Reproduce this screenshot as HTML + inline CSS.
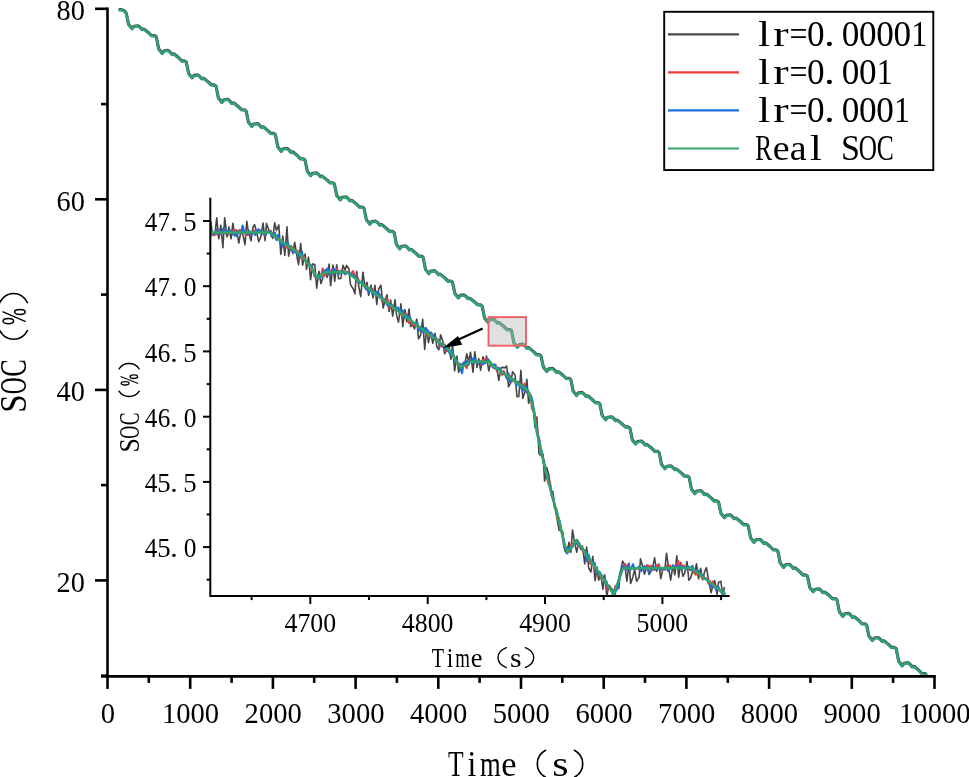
<!DOCTYPE html>
<html><head><meta charset="utf-8"><title>SOC</title>
<style>html,body{margin:0;padding:0;background:#fff;overflow:hidden}svg{display:block;will-change:transform}</style>
</head><body>
<svg width="969" height="777" viewBox="0 0 969 777">
<rect width="969" height="777" fill="#fff"/>
<path d="M118.6 9.9 L121.5 9.9 L124 10.8 L126.2 13.3 L127.2 18 L128.6 24.6 L130.2 26.5 L132.1 28.8 L134 26.5 L138 26 L139.9 27.4 L141.9 29.8 L143.9 29.3 L148.7 33.1 L151.7 35.9 L154.6 35.9 L156.3 37.1 L157.3 42.1 L158.7 49.1 L160.2 51.1 L162.2 53.6 L164.1 51.1 L168 50.6 L170 52.1 L172 54.6 L173.9 54.1 L178.8 58.1 L181.7 61.2 L184.6 61.2 L186.3 62.4 L187.3 67.1 L188.7 73.8 L190.2 75.7 L192.1 78 L194 75.7 L197.9 75.2 L199.8 76.7 L201.8 79 L203.7 78.5 L208.5 82.4 L211.4 85.2 L214.3 85.2 L216 86.4 L217 91.3 L218.4 98.2 L220 100.1 L221.9 102.6 L223.8 100.1 L227.8 99.6 L229.7 101.1 L231.7 103.6 L233.7 103.1 L238.5 107 L241.5 110 L244.4 110 L246.1 111.2 L247.1 115.9 L248.5 122.5 L250 124.3 L251.8 126.6 L253.7 124.3 L257.6 123.8 L259.4 125.3 L261.4 127.6 L263.3 127.1 L268 130.9 L270.9 133.7 L273.8 133.7 L275.4 134.9 L276.4 139.9 L277.8 147 L279.3 149 L281.2 151.5 L283.1 149 L287 148.5 L288.9 150.1 L290.9 152.6 L292.8 152 L297.6 156.1 L300.4 159.1 L303.3 159.1 L305 160.4 L306 165.1 L307.4 171.7 L308.9 173.6 L310.7 175.9 L312.6 173.6 L316.5 173.1 L318.4 174.5 L320.4 176.9 L322.2 176.4 L327 180.2 L329.9 183 L332.8 183 L334.4 184.2 L335.4 189 L336.8 195.8 L338.3 197.6 L340.2 200 L342.1 197.6 L346 197.1 L347.9 198.6 L349.9 201 L351.8 200.5 L356.6 204.4 L359.4 207.3 L362.3 207.3 L364 208.5 L365 213.3 L366.4 220.1 L368 221.9 L369.9 224.3 L371.8 221.9 L375.8 221.4 L377.7 222.9 L379.7 225.3 L381.7 224.8 L386.5 228.7 L389.5 231.6 L392.4 231.6 L394.1 232.8 L395.1 237.7 L396.4 244.6 L397.9 246.5 L399.8 249 L401.6 246.5 L405.4 246 L407.3 247.5 L409.3 250 L411.1 249.5 L415.8 253.4 L418.6 256.4 L421.5 256.4 L423.1 257.6 L424.1 262.5 L425.5 269.5 L427 271.4 L428.8 273.9 L430.7 271.4 L434.6 270.9 L436.5 272.5 L438.5 274.9 L440.3 274.4 L445.1 278.4 L448 281.4 L450.9 281.4 L452.5 282.6 L453.5 287.2 L454.9 293.8 L456.4 295.7 L458.3 298 L460.2 295.7 L464.1 295.2 L466 296.6 L468 298.9 L469.9 298.5 L474.7 302.2 L477.5 305 L480.4 305 L482.1 306.2 L483.1 311.1 L484.5 318 L486 320 L487.8 322.4 L489.7 320 L493.6 319.5 L495.5 321 L497.5 323.4 L499.3 322.9 L504.1 326.9 L507 329.9 L509.9 329.9 L511.5 331.1 L512.5 336 L513.9 343 L515.4 344.9 L517.3 347.4 L519.2 344.9 L523 344.4 L524.9 346 L526.9 348.4 L528.8 347.9 L533.6 351.9 L536.5 354.9 L539.3 354.9 L541 356.1 L542 360.8 L543.4 367.4 L544.9 369.2 L546.8 371.5 L548.7 369.2 L552.7 368.7 L554.6 370.2 L556.6 372.5 L558.5 372 L563.3 375.8 L566.2 378.6 L569.1 378.6 L570.8 379.8 L571.8 384.6 L573.1 391.4 L574.6 393.2 L576.5 395.6 L578.3 393.2 L582.1 392.7 L584 394.2 L586 396.6 L587.8 396.1 L592.5 400 L595.3 402.9 L598.2 402.9 L599.8 404.1 L600.8 408.9 L602.2 415.7 L603.8 417.5 L605.7 419.9 L607.6 417.5 L611.6 417 L613.5 418.5 L615.5 420.9 L617.5 420.4 L622.3 424.3 L625.3 427.2 L628.2 427.2 L629.9 428.4 L630.9 433.2 L632.3 440 L633.7 441.8 L635.6 444.2 L637.5 441.8 L641.3 441.3 L643.2 442.8 L645.2 445.2 L647 444.7 L651.8 448.6 L654.6 451.5 L657.5 451.5 L659.1 452.7 L660.1 457.6 L661.5 464.5 L663 466.5 L665 468.9 L666.9 466.5 L670.8 466 L672.8 467.5 L674.8 469.9 L676.7 469.4 L681.6 473.4 L684.5 476.4 L687.4 476.4 L689.1 477.6 L690.1 482.5 L691.5 489.4 L693 491.3 L694.9 493.8 L696.8 491.3 L700.6 490.8 L702.5 492.3 L704.5 494.8 L706.4 494.3 L711.2 498.2 L714.1 501.2 L716.9 501.2 L718.6 502.4 L719.6 507.1 L721 513.7 L722.5 515.5 L724.4 517.8 L726.3 515.5 L730.2 515 L732.1 516.5 L734.1 518.8 L736 518.3 L740.8 522.1 L743.6 524.9 L746.5 524.9 L748.2 526.1 L749.2 531 L750.6 538 L752.1 540 L754 542.5 L755.9 540 L759.8 539.5 L761.7 541 L763.7 543.5 L765.6 543 L770.4 547 L773.2 550 L776.1 550 L777.8 551.2 L778.8 556.2 L780.2 563.2 L781.7 565.1 L783.6 567.6 L785.5 565.1 L789.4 564.6 L791.3 566.2 L793.3 568.7 L795.2 568.1 L800 572.2 L802.8 575.2 L805.7 575.2 L807.4 576.4 L808.4 581.1 L809.8 587.7 L811.3 589.5 L813.2 591.8 L815.1 589.5 L819 589 L820.9 590.5 L822.9 592.8 L824.8 592.3 L829.6 596.1 L832.4 598.9 L835.3 598.9 L837 600.1 L838 605 L839.4 612 L840.9 614 L842.8 616.5 L844.7 614 L848.6 613.5 L850.5 615 L852.5 617.5 L854.4 617 L859.2 621 L862 624 L864.9 624 L866.6 625.2 L867.6 629.9 L869 636.5 L870.5 638.3 L872.4 640.6 L874.3 638.3 L878.2 637.8 L880.1 639.3 L882.1 641.6 L884 641.1 L888.8 644.9 L891.6 647.7 L894.5 647.7 L896.2 648.9 L897.2 654.1 L898.7 661.4 L900.2 663.5 L902.2 666 L904.1 663.5 L908.2 662.9 L910.1 664.5 L912.2 667.1 L914.2 666.6 L919.1 670.8 L922.1 673.9 L925.1 673.9 L926.8 675.2" fill="none" stroke="#4a4a4a" stroke-width="3.1" stroke-linejoin="round" transform="translate(0 -0.3)"/>
<path d="M118.6 9.9 L121.5 9.9 L124 10.8 L126.2 13.3 L127.2 18 L128.6 24.6 L130.2 26.5 L132.1 28.8 L134 26.5 L138 26 L139.9 27.4 L141.9 29.8 L143.9 29.3 L148.7 33.1 L151.7 35.9 L154.6 35.9 L156.3 37.1 L157.3 42.1 L158.7 49.1 L160.2 51.1 L162.2 53.6 L164.1 51.1 L168 50.6 L170 52.1 L172 54.6 L173.9 54.1 L178.8 58.1 L181.7 61.2 L184.6 61.2 L186.3 62.4 L187.3 67.1 L188.7 73.8 L190.2 75.7 L192.1 78 L194 75.7 L197.9 75.2 L199.8 76.7 L201.8 79 L203.7 78.5 L208.5 82.4 L211.4 85.2 L214.3 85.2 L216 86.4 L217 91.3 L218.4 98.2 L220 100.1 L221.9 102.6 L223.8 100.1 L227.8 99.6 L229.7 101.1 L231.7 103.6 L233.7 103.1 L238.5 107 L241.5 110 L244.4 110 L246.1 111.2 L247.1 115.9 L248.5 122.5 L250 124.3 L251.8 126.6 L253.7 124.3 L257.6 123.8 L259.4 125.3 L261.4 127.6 L263.3 127.1 L268 130.9 L270.9 133.7 L273.8 133.7 L275.4 134.9 L276.4 139.9 L277.8 147 L279.3 149 L281.2 151.5 L283.1 149 L287 148.5 L288.9 150.1 L290.9 152.6 L292.8 152 L297.6 156.1 L300.4 159.1 L303.3 159.1 L305 160.4 L306 165.1 L307.4 171.7 L308.9 173.6 L310.7 175.9 L312.6 173.6 L316.5 173.1 L318.4 174.5 L320.4 176.9 L322.2 176.4 L327 180.2 L329.9 183 L332.8 183 L334.4 184.2 L335.4 189 L336.8 195.8 L338.3 197.6 L340.2 200 L342.1 197.6 L346 197.1 L347.9 198.6 L349.9 201 L351.8 200.5 L356.6 204.4 L359.4 207.3 L362.3 207.3 L364 208.5 L365 213.3 L366.4 220.1 L368 221.9 L369.9 224.3 L371.8 221.9 L375.8 221.4 L377.7 222.9 L379.7 225.3 L381.7 224.8 L386.5 228.7 L389.5 231.6 L392.4 231.6 L394.1 232.8 L395.1 237.7 L396.4 244.6 L397.9 246.5 L399.8 249 L401.6 246.5 L405.4 246 L407.3 247.5 L409.3 250 L411.1 249.5 L415.8 253.4 L418.6 256.4 L421.5 256.4 L423.1 257.6 L424.1 262.5 L425.5 269.5 L427 271.4 L428.8 273.9 L430.7 271.4 L434.6 270.9 L436.5 272.5 L438.5 274.9 L440.3 274.4 L445.1 278.4 L448 281.4 L450.9 281.4 L452.5 282.6 L453.5 287.2 L454.9 293.8 L456.4 295.7 L458.3 298 L460.2 295.7 L464.1 295.2 L466 296.6 L468 298.9 L469.9 298.5 L474.7 302.2 L477.5 305 L480.4 305 L482.1 306.2 L483.1 311.1 L484.5 318 L486 320 L487.8 322.4 L489.7 320 L493.6 319.5 L495.5 321 L497.5 323.4 L499.3 322.9 L504.1 326.9 L507 329.9 L509.9 329.9 L511.5 331.1 L512.5 336 L513.9 343 L515.4 344.9 L517.3 347.4 L519.2 344.9 L523 344.4 L524.9 346 L526.9 348.4 L528.8 347.9 L533.6 351.9 L536.5 354.9 L539.3 354.9 L541 356.1 L542 360.8 L543.4 367.4 L544.9 369.2 L546.8 371.5 L548.7 369.2 L552.7 368.7 L554.6 370.2 L556.6 372.5 L558.5 372 L563.3 375.8 L566.2 378.6 L569.1 378.6 L570.8 379.8 L571.8 384.6 L573.1 391.4 L574.6 393.2 L576.5 395.6 L578.3 393.2 L582.1 392.7 L584 394.2 L586 396.6 L587.8 396.1 L592.5 400 L595.3 402.9 L598.2 402.9 L599.8 404.1 L600.8 408.9 L602.2 415.7 L603.8 417.5 L605.7 419.9 L607.6 417.5 L611.6 417 L613.5 418.5 L615.5 420.9 L617.5 420.4 L622.3 424.3 L625.3 427.2 L628.2 427.2 L629.9 428.4 L630.9 433.2 L632.3 440 L633.7 441.8 L635.6 444.2 L637.5 441.8 L641.3 441.3 L643.2 442.8 L645.2 445.2 L647 444.7 L651.8 448.6 L654.6 451.5 L657.5 451.5 L659.1 452.7 L660.1 457.6 L661.5 464.5 L663 466.5 L665 468.9 L666.9 466.5 L670.8 466 L672.8 467.5 L674.8 469.9 L676.7 469.4 L681.6 473.4 L684.5 476.4 L687.4 476.4 L689.1 477.6 L690.1 482.5 L691.5 489.4 L693 491.3 L694.9 493.8 L696.8 491.3 L700.6 490.8 L702.5 492.3 L704.5 494.8 L706.4 494.3 L711.2 498.2 L714.1 501.2 L716.9 501.2 L718.6 502.4 L719.6 507.1 L721 513.7 L722.5 515.5 L724.4 517.8 L726.3 515.5 L730.2 515 L732.1 516.5 L734.1 518.8 L736 518.3 L740.8 522.1 L743.6 524.9 L746.5 524.9 L748.2 526.1 L749.2 531 L750.6 538 L752.1 540 L754 542.5 L755.9 540 L759.8 539.5 L761.7 541 L763.7 543.5 L765.6 543 L770.4 547 L773.2 550 L776.1 550 L777.8 551.2 L778.8 556.2 L780.2 563.2 L781.7 565.1 L783.6 567.6 L785.5 565.1 L789.4 564.6 L791.3 566.2 L793.3 568.7 L795.2 568.1 L800 572.2 L802.8 575.2 L805.7 575.2 L807.4 576.4 L808.4 581.1 L809.8 587.7 L811.3 589.5 L813.2 591.8 L815.1 589.5 L819 589 L820.9 590.5 L822.9 592.8 L824.8 592.3 L829.6 596.1 L832.4 598.9 L835.3 598.9 L837 600.1 L838 605 L839.4 612 L840.9 614 L842.8 616.5 L844.7 614 L848.6 613.5 L850.5 615 L852.5 617.5 L854.4 617 L859.2 621 L862 624 L864.9 624 L866.6 625.2 L867.6 629.9 L869 636.5 L870.5 638.3 L872.4 640.6 L874.3 638.3 L878.2 637.8 L880.1 639.3 L882.1 641.6 L884 641.1 L888.8 644.9 L891.6 647.7 L894.5 647.7 L896.2 648.9 L897.2 654.1 L898.7 661.4 L900.2 663.5 L902.2 666 L904.1 663.5 L908.2 662.9 L910.1 664.5 L912.2 667.1 L914.2 666.6 L919.1 670.8 L922.1 673.9 L925.1 673.9 L926.8 675.2" fill="none" stroke="#1a6fdc" stroke-width="2.7" stroke-linejoin="round" stroke-opacity="0.45" transform="translate(0 0.3)"/>
<path d="M118.6 9.9 L121.5 9.9 L124 10.8 L126.2 13.3 L127.2 18 L128.6 24.6 L130.2 26.5 L132.1 28.8 L134 26.5 L138 26 L139.9 27.4 L141.9 29.8 L143.9 29.3 L148.7 33.1 L151.7 35.9 L154.6 35.9 L156.3 37.1 L157.3 42.1 L158.7 49.1 L160.2 51.1 L162.2 53.6 L164.1 51.1 L168 50.6 L170 52.1 L172 54.6 L173.9 54.1 L178.8 58.1 L181.7 61.2 L184.6 61.2 L186.3 62.4 L187.3 67.1 L188.7 73.8 L190.2 75.7 L192.1 78 L194 75.7 L197.9 75.2 L199.8 76.7 L201.8 79 L203.7 78.5 L208.5 82.4 L211.4 85.2 L214.3 85.2 L216 86.4 L217 91.3 L218.4 98.2 L220 100.1 L221.9 102.6 L223.8 100.1 L227.8 99.6 L229.7 101.1 L231.7 103.6 L233.7 103.1 L238.5 107 L241.5 110 L244.4 110 L246.1 111.2 L247.1 115.9 L248.5 122.5 L250 124.3 L251.8 126.6 L253.7 124.3 L257.6 123.8 L259.4 125.3 L261.4 127.6 L263.3 127.1 L268 130.9 L270.9 133.7 L273.8 133.7 L275.4 134.9 L276.4 139.9 L277.8 147 L279.3 149 L281.2 151.5 L283.1 149 L287 148.5 L288.9 150.1 L290.9 152.6 L292.8 152 L297.6 156.1 L300.4 159.1 L303.3 159.1 L305 160.4 L306 165.1 L307.4 171.7 L308.9 173.6 L310.7 175.9 L312.6 173.6 L316.5 173.1 L318.4 174.5 L320.4 176.9 L322.2 176.4 L327 180.2 L329.9 183 L332.8 183 L334.4 184.2 L335.4 189 L336.8 195.8 L338.3 197.6 L340.2 200 L342.1 197.6 L346 197.1 L347.9 198.6 L349.9 201 L351.8 200.5 L356.6 204.4 L359.4 207.3 L362.3 207.3 L364 208.5 L365 213.3 L366.4 220.1 L368 221.9 L369.9 224.3 L371.8 221.9 L375.8 221.4 L377.7 222.9 L379.7 225.3 L381.7 224.8 L386.5 228.7 L389.5 231.6 L392.4 231.6 L394.1 232.8 L395.1 237.7 L396.4 244.6 L397.9 246.5 L399.8 249 L401.6 246.5 L405.4 246 L407.3 247.5 L409.3 250 L411.1 249.5 L415.8 253.4 L418.6 256.4 L421.5 256.4 L423.1 257.6 L424.1 262.5 L425.5 269.5 L427 271.4 L428.8 273.9 L430.7 271.4 L434.6 270.9 L436.5 272.5 L438.5 274.9 L440.3 274.4 L445.1 278.4 L448 281.4 L450.9 281.4 L452.5 282.6 L453.5 287.2 L454.9 293.8 L456.4 295.7 L458.3 298 L460.2 295.7 L464.1 295.2 L466 296.6 L468 298.9 L469.9 298.5 L474.7 302.2 L477.5 305 L480.4 305 L482.1 306.2 L483.1 311.1 L484.5 318 L486 320 L487.8 322.4 L489.7 320 L493.6 319.5 L495.5 321 L497.5 323.4 L499.3 322.9 L504.1 326.9 L507 329.9 L509.9 329.9 L511.5 331.1 L512.5 336 L513.9 343 L515.4 344.9 L517.3 347.4 L519.2 344.9 L523 344.4 L524.9 346 L526.9 348.4 L528.8 347.9 L533.6 351.9 L536.5 354.9 L539.3 354.9 L541 356.1 L542 360.8 L543.4 367.4 L544.9 369.2 L546.8 371.5 L548.7 369.2 L552.7 368.7 L554.6 370.2 L556.6 372.5 L558.5 372 L563.3 375.8 L566.2 378.6 L569.1 378.6 L570.8 379.8 L571.8 384.6 L573.1 391.4 L574.6 393.2 L576.5 395.6 L578.3 393.2 L582.1 392.7 L584 394.2 L586 396.6 L587.8 396.1 L592.5 400 L595.3 402.9 L598.2 402.9 L599.8 404.1 L600.8 408.9 L602.2 415.7 L603.8 417.5 L605.7 419.9 L607.6 417.5 L611.6 417 L613.5 418.5 L615.5 420.9 L617.5 420.4 L622.3 424.3 L625.3 427.2 L628.2 427.2 L629.9 428.4 L630.9 433.2 L632.3 440 L633.7 441.8 L635.6 444.2 L637.5 441.8 L641.3 441.3 L643.2 442.8 L645.2 445.2 L647 444.7 L651.8 448.6 L654.6 451.5 L657.5 451.5 L659.1 452.7 L660.1 457.6 L661.5 464.5 L663 466.5 L665 468.9 L666.9 466.5 L670.8 466 L672.8 467.5 L674.8 469.9 L676.7 469.4 L681.6 473.4 L684.5 476.4 L687.4 476.4 L689.1 477.6 L690.1 482.5 L691.5 489.4 L693 491.3 L694.9 493.8 L696.8 491.3 L700.6 490.8 L702.5 492.3 L704.5 494.8 L706.4 494.3 L711.2 498.2 L714.1 501.2 L716.9 501.2 L718.6 502.4 L719.6 507.1 L721 513.7 L722.5 515.5 L724.4 517.8 L726.3 515.5 L730.2 515 L732.1 516.5 L734.1 518.8 L736 518.3 L740.8 522.1 L743.6 524.9 L746.5 524.9 L748.2 526.1 L749.2 531 L750.6 538 L752.1 540 L754 542.5 L755.9 540 L759.8 539.5 L761.7 541 L763.7 543.5 L765.6 543 L770.4 547 L773.2 550 L776.1 550 L777.8 551.2 L778.8 556.2 L780.2 563.2 L781.7 565.1 L783.6 567.6 L785.5 565.1 L789.4 564.6 L791.3 566.2 L793.3 568.7 L795.2 568.1 L800 572.2 L802.8 575.2 L805.7 575.2 L807.4 576.4 L808.4 581.1 L809.8 587.7 L811.3 589.5 L813.2 591.8 L815.1 589.5 L819 589 L820.9 590.5 L822.9 592.8 L824.8 592.3 L829.6 596.1 L832.4 598.9 L835.3 598.9 L837 600.1 L838 605 L839.4 612 L840.9 614 L842.8 616.5 L844.7 614 L848.6 613.5 L850.5 615 L852.5 617.5 L854.4 617 L859.2 621 L862 624 L864.9 624 L866.6 625.2 L867.6 629.9 L869 636.5 L870.5 638.3 L872.4 640.6 L874.3 638.3 L878.2 637.8 L880.1 639.3 L882.1 641.6 L884 641.1 L888.8 644.9 L891.6 647.7 L894.5 647.7 L896.2 648.9 L897.2 654.1 L898.7 661.4 L900.2 663.5 L902.2 666 L904.1 663.5 L908.2 662.9 L910.1 664.5 L912.2 667.1 L914.2 666.6 L919.1 670.8 L922.1 673.9 L925.1 673.9 L926.8 675.2" fill="none" stroke="#2ea866" stroke-width="2.1" stroke-linejoin="round"/>
<path d="M210.8 221.1 L212.5 234.8 L215 234.5 L216.7 217.7 L218.8 238.8 L220.8 225.3 L222.9 247.7 L224.7 217.7 L227 236.9 L229 227.1 L231 238.8 L232.9 223.4 L234.8 235.9 L236.6 230.1 L238.8 243 L241 230.8 L243 235.4 L245 244.6 L246.8 221.3 L248.5 232.3 L251 240.8 L252.8 227.9 L254.5 224.6 L256.7 232.1 L258.7 241.7 L260.9 236.7 L263 223.1 L265.1 240.6 L266.5 223.4 L269 230.8 L270.8 230.6 L272.8 238.5 L274.7 222.9 L276.5 230.5 L278.8 224.9 L280.8 254.5 L282.8 236.1 L284.8 255.4 L287 226.9 L288.6 256.1 L290.8 246 L293 253.6 L294.7 242.2 L297.1 257.3 L298.5 264.6 L300.7 243.3 L302.6 265.1 L305.1 254 L306.5 269.4 L308.5 257.1 L310.6 279.7 L312.7 263.9 L314.8 264.5 L316.7 288.2 L318.9 271.2 L321 283.6 L322.6 278.4 L325 271.5 L327.1 277.5 L329.1 264.1 L330.6 285.8 L333 265 L334.7 281.3 L336.7 264.9 L338.6 278.8 L340.9 278.5 L343 265.2 L345.1 270.3 L346.5 265.4 L348.8 268.4 L350.5 284.6 L353.1 288.6 L354.9 293.8 L356.6 271.4 L359 287.9 L360.7 296.6 L362.9 272.2 L365.1 287.1 L367 282.4 L368.6 295.3 L370.9 285.1 L373.1 297.9 L374.9 285.2 L376.8 304.5 L378.6 289.1 L380.9 285.1 L383.1 308 L384.9 301.3 L387 294.8 L389.1 311.4 L390.6 300 L392.7 316.2 L395 299.7 L396.6 315.4 L398.5 322.2 L400.9 303.9 L402.8 326.6 L404.9 309.6 L406.8 322 L409.1 309 L410.6 326.5 L412.9 325.1 L414.6 328.8 L416.7 319.1 L418.5 338.9 L420.5 335.6 L422.7 319.3 L424.7 349.5 L426.6 328.3 L428.5 342.6 L430.6 332.1 L432.8 343.3 L435 333.4 L436.9 346.8 L438.8 349.8 L440.6 334.7 L442.8 341.1 L444.6 353.8 L446.9 349.3 L448.9 344.9 L450.9 359.1 L452.6 345 L454.6 370.9 L456.9 356 L458.6 372.4 L460.6 364.1 L462.9 364.6 L464.5 364.9 L466.8 353.9 L468.6 362 L470.5 352.2 L473 372.3 L474.8 351.9 L477 367.4 L478.7 358.6 L480.6 370.2 L483 356.9 L485.1 363.2 L486.5 356 L488.8 371 L490.8 362 L493 367.6 L494.7 368.7 L496.6 366.7 L498.8 380.3 L501 367.8 L502.8 367.4 L504.8 367.9 L506.7 366 L508.5 386.8 L510.7 382.9 L512.6 371.7 L515.1 375.1 L517 396.7 L518.8 396.5 L520.9 370.2 L522.8 398.4 L524.9 392.1 L526.9 379.4 L528.6 403.3 L530.5 394.9 L532.5 400.2 L535 427.6 L536.9 417.1 L539 453.4 L541 455.8 L543 454.6 L544.6 481.1 L546.7 467.4 L548.8 474.5 L551.1 491.3 L552.8 491.4 L554.9 506.6 L556.7 517.2 L559.1 530.2 L560.7 530.8 L562.6 531.6 L564.7 550 L566.7 553.4 L569 542.4 L570.9 552.3 L572.5 530 L574.9 544.4 L576.8 552.2 L578.6 542.4 L580.7 549.2 L583 550 L584.7 563.8 L586.6 547.1 L588.7 568 L591 572 L592.8 556.3 L595.1 580.8 L597 567.4 L598.6 580.2 L600.8 574.3 L602.9 589.3 L604.7 574.8 L606.8 596 L609 585.2 L610.6 587.3 L612.9 596 L614.8 587.6 L616.6 585.1 L618.7 588.7 L620.6 571.2 L622.6 561.1 L624.7 564.7 L626.9 581.2 L629.1 563.4 L630.6 583.4 L632.9 576.9 L634.6 569.3 L636.6 581.3 L639.1 577.4 L640.5 558.9 L642.8 566.8 L644.5 574.2 L647 565.4 L649 574.5 L650.7 571.8 L652.5 568.2 L654.6 557.8 L656.7 571.3 L658.9 564 L660.8 578.7 L663.1 567.8 L664.9 569.5 L666.5 553.2 L668.9 569.9 L670.7 580.1 L672.9 565.4 L674.8 574.9 L676.8 555.8 L678.7 577.4 L680.6 562.5 L682.9 576.3 L684.8 572.8 L687 561.5 L688.8 580.2 L690.6 577.9 L693 570.1 L694.6 573.6 L696.5 563.7 L698.5 578.8 L700.6 568.2 L702.7 579.8 L704.6 571.6 L706.5 567.6 L708.6 580.3 L711.1 592.6 L713 585 L714.7 580.6 L717.1 594.5 L718.5 582.4 L720.8 581.1 L722.6 593.5 L724.6 587" fill="none" stroke="#454545" stroke-width="1.6" stroke-linejoin="round"/>
<path d="M210.6 236 L212.2 233.8 L214.1 235.3 L215.5 233.7 L217.4 234.6 L218.8 229.6 L220.2 233.3 L221.9 233 L223.6 230.1 L225.1 230.5 L226.8 231 L228.5 234.3 L230 232.5 L231.8 233.3 L233.2 230.7 L235 230.1 L236.4 234.4 L238 231.4 L239.7 229.9 L241.4 230.7 L242.6 230.4 L244.5 232 L245.9 235.2 L247.8 234.6 L249 232.5 L250.5 233.4 L252.7 234.1 L253.8 230.3 L255.7 232.7 L257.1 232.5 L259 231.9 L260.5 231.9 L262.2 232.1 L263.6 234.3 L265.3 235.5 L266.6 232.2 L268.2 233 L270.3 231 L271.5 235.1 L273.3 232.8 L274.5 236.2 L276.5 239.4 L277.8 238.8 L279.5 240.5 L281.5 240.3 L282.8 242 L284.2 245.2 L286 247.3 L287.9 247.8 L289 246.3 L290.5 246.4 L292.2 247 L293.9 249.4 L295.4 251.9 L297.4 250.7 L298.5 252.8 L300.5 256.4 L302.1 259.4 L303.8 256.7 L305.5 260.1 L306.7 263.7 L308.4 264.5 L310.2 264.4 L311.4 269.7 L313.4 270.4 L314.7 276.7 L316.4 277.2 L318.3 276.3 L319.7 276.1 L321.3 274.7 L322.8 268.6 L324.2 276 L326.1 270 L327.9 274.9 L329.4 270.6 L330.7 273 L332.1 269.5 L334.1 269.2 L335.7 272.2 L337 268.8 L338.9 273.4 L340.2 271 L342 270.5 L343.3 270.8 L345.3 274.2 L346.7 272.2 L348.3 271.6 L349.9 274.8 L351.3 273.2 L353 271.1 L354.7 276.4 L356.5 275.8 L357.7 278.3 L359.8 282.6 L361 282 L363 283 L364.2 286.3 L366.3 285.3 L367.5 290.6 L369 288.8 L371.1 288.8 L372.3 289 L374.1 293.9 L375.4 292.7 L377.4 296.1 L378.8 294.2 L380.6 295.9 L382.3 301.8 L383.5 299.3 L385.1 300.3 L387.1 298.4 L388.3 303.9 L390 308.2 L391.5 304.7 L393.1 306.7 L394.6 309.2 L396.3 309.6 L397.9 310.9 L399.4 309.8 L401 314.5 L403 310.9 L404.3 314.2 L406.2 314.3 L407.9 316.1 L409.1 323 L411.1 320 L412.6 324.9 L413.7 324.4 L415.4 325.6 L417.3 325 L418.8 330.5 L420.1 326.8 L422 330.3 L423.6 328.6 L425 332.1 L426.9 333.9 L428.4 336.5 L430.2 336 L431.5 335.4 L433.4 335.7 L434.7 339.6 L436.5 340.4 L437.9 339.7 L439.6 345.1 L441.4 346.7 L442.6 344.3 L444.7 344.5 L445.9 351.5 L447.5 349.7 L449.1 352.2 L450.6 351.7 L452.2 354.2 L454 355.9 L455.7 360.8 L457.1 362.6 L458.8 363.2 L460.3 367.9 L461.8 368.7 L463.7 364.2 L465.1 364.8 L466.7 368 L468.3 362.4 L469.7 360.1 L471.7 360.9 L473.4 361.3 L475 360.4 L476.7 362.7 L478.1 362.7 L479.4 361.1 L481.3 364.4 L482.7 360.2 L484.2 360 L486.3 358.4 L487.5 361.5 L489.2 360.9 L490.9 363.8 L492.2 365 L494.1 367.5 L495.6 364.9 L497 371.2 L499.1 368.8 L500.5 370 L502.3 374.8 L503.6 371 L505.4 374.8 L506.9 378.4 L508.5 377.2 L509.8 376 L511.8 381.4 L512.9 379.4 L514.7 381.3 L516.1 383.1 L518.2 383.8 L519.9 383.5 L521 387.5 L522.8 387.7 L524.5 383.7 L525.9 390.5 L527.7 393.2 L529.2 392.7 L531 398.4 L532.1 408.8 L534 411.5 L535.7 421 L537.3 431.8 L539.1 439.1 L540.6 448.4 L541.8 455.4 L543.9 460.1 L545.4 470.6 L546.7 474.6 L548.3 483.3 L549.9 482.1 L551.7 495.7 L553.3 500.2 L554.6 504.8 L556.5 512.7 L557.7 518.9 L559.6 522.2 L561.3 530.9 L562.9 538.6 L564.2 545.3 L566.2 548.2 L567.8 550.2 L569.1 551.5 L570.8 545.7 L572.4 544.3 L574.2 542.5 L575.7 544.7 L577 539.9 L579.1 543.3 L580.4 547.2 L582.1 546.1 L583.3 552.3 L585.2 551.6 L587 557.5 L588.4 556.5 L589.9 563.2 L591.3 564.1 L593.5 565.4 L594.5 568.5 L596.3 572.7 L598.2 571 L599.5 573.9 L601.5 579.1 L602.8 578.1 L604.6 580.5 L606 582.3 L607.6 590.1 L609.4 585.8 L610.7 589.4 L612.4 592.8 L614.3 595.3 L615.5 586.2 L617.1 585.7 L619.1 578.2 L620.7 574.7 L621.9 570.9 L623.5 565.5 L625.4 564.4 L626.9 568.1 L628.4 567.8 L629.8 568.5 L631.6 568.5 L633.1 568.3 L635.1 568.4 L636.2 568.8 L637.8 567.6 L639.8 570.2 L641.4 569.8 L643.1 569.1 L644.6 567.3 L646.1 567 L647.6 565.2 L649.1 567.2 L651 566 L652.3 569.5 L653.8 569.9 L655.4 568.3 L657.1 565.4 L658.7 565 L660.4 569.6 L661.8 569.9 L663.8 569 L665.4 569.6 L666.9 565.5 L668.1 570.1 L670.1 565.5 L671.6 568.4 L673.1 568.3 L674.5 566.4 L676.4 567.2 L678.3 561 L679.3 567.9 L681.3 564.3 L683 567.9 L684.1 565.8 L686.2 568.6 L687.7 568.4 L689.1 569.5 L690.5 569.9 L692.4 569.1 L694.1 571.8 L695.8 574.7 L697 570.1 L698.6 574.2 L700.7 573.4 L701.8 578 L703.9 577.4 L705.5 578.1 L707.1 578.9 L708.4 583.4 L710.1 581.4 L711.4 586.3 L712.9 581.5 L714.7 587.5 L716.3 586.2 L718 588.2 L719.3 589.7 L721.5 592.2 L722.5 592.3 L724.5 594.2" fill="none" stroke="#ee3b3b" stroke-width="2.2" stroke-linejoin="round"/>
<path d="M210.9 232.7 L212.2 232.7 L214 234.6 L215.8 231.8 L216.9 229.4 L218.5 232.6 L220.6 233.9 L222.2 231.5 L223.4 228.3 L225.2 233.4 L226.7 231.4 L228.6 231 L230.3 230.7 L231.9 232 L233 234.5 L234.5 233.7 L236.6 236 L238.2 231.6 L239.3 232.9 L241.5 232.2 L242.5 225.6 L244.3 232.1 L246.3 232.4 L247.6 234 L249.3 230.9 L250.9 234.6 L252.4 232.6 L254 232.2 L255.3 235.1 L257.1 231 L258.5 229.3 L260.5 230.7 L262.2 233 L263.8 232.2 L265.2 235.3 L266.9 231.6 L268.7 232 L270.3 231.9 L271.6 236.5 L273.4 233.8 L275 232.9 L276.4 239.8 L278.1 235.1 L279.3 239.8 L281.2 244.8 L282.9 246.4 L284.3 244.8 L286.1 243.7 L287.8 242.5 L289 246.3 L290.7 246.8 L292.3 251.2 L293.9 251.4 L295.4 252 L297.4 253.5 L298.5 256.3 L300.4 254.6 L301.7 251.5 L303.6 259.3 L305.1 260.8 L306.8 261.8 L308.6 264.4 L310.1 265.7 L311.7 265.7 L313.2 271.1 L314.9 275.3 L316.1 277.3 L318.2 275 L319.7 278.2 L321 276.3 L322.9 272.8 L324.4 271.2 L326.2 269.6 L327.8 268.5 L328.9 274.5 L330.6 272.4 L332.3 272.1 L333.8 268.8 L335.5 272.1 L337.2 270.8 L338.7 274 L340.6 272 L342.1 271 L343.7 272.9 L345.3 274 L346.9 272.7 L348.7 272.8 L350.2 273.7 L351.3 274.5 L353.1 275.1 L355.1 276.8 L356.6 276.9 L358.1 281.7 L359.9 283 L361.3 281.7 L362.6 282.1 L364.5 286 L366.2 289.2 L367.4 287.1 L369.1 292.1 L370.7 288.6 L372.4 293.9 L373.7 293.9 L375.5 292.1 L377.1 292.2 L379.1 293.7 L380.3 297.9 L382 296.6 L383.7 301.5 L385.1 299.3 L386.8 304.2 L388.4 306 L390.2 304.4 L391.6 305.8 L393.1 305.6 L394.7 309.4 L396.7 308.9 L398 307.6 L399.7 313.2 L401.3 309.5 L403.1 311.9 L404.6 317.5 L406.2 315.8 L407.6 317 L409.4 316.4 L410.9 319.7 L412.1 322.2 L414 323.3 L415.3 323 L417.2 322.6 L419 330.5 L420.2 327.4 L421.9 331.1 L423.8 332.2 L425.3 327.9 L427 330.7 L428.2 330.9 L429.8 335.8 L431.6 333.3 L433.4 336.5 L434.9 337.7 L436.5 338.7 L438.2 341.1 L439.4 343.6 L440.9 344.5 L442.5 345.6 L444.5 348.1 L445.7 349.3 L447.6 350.1 L449 351.6 L451 355 L452.2 350.3 L453.9 356.8 L455.7 362 L457 362.6 L459 365.3 L460.6 368.7 L462.1 373.2 L463.5 362.7 L465.4 362.8 L466.7 361.2 L468.6 364.7 L469.9 360 L471.8 362.8 L472.9 358.5 L474.6 358.7 L476.6 362.1 L478.1 363.2 L479.5 360.9 L481 362.7 L482.5 364.2 L484.1 363.4 L486 362.4 L487.8 358.9 L488.9 360.6 L491 363.2 L492.6 366.8 L494.2 364.4 L495.4 366.2 L497 370.1 L498.5 367.8 L500.4 369.8 L502.1 372 L503.5 373.7 L505 373.7 L507.1 378.3 L508.4 373.3 L510 381.7 L511.9 379.2 L513 378.9 L514.9 381 L516.4 385.4 L517.9 381.7 L519.3 385.9 L521.5 387.6 L522.6 390.8 L524.4 387.2 L526 386.8 L527.4 392.9 L529.2 394.1 L531 396.1 L532.4 402.4 L534.2 411.3 L535.6 424.9 L537.3 434 L539 438.8 L540.6 448.4 L541.9 451.8 L543.8 462.5 L545.5 470.5 L546.8 476.2 L548.7 482.2 L550 485.9 L551.4 494.2 L553.4 498.5 L554.5 507.3 L556.3 508.9 L558.1 516.3 L559.9 522.2 L561 529.4 L562.7 534 L564.3 547.4 L566.3 548.1 L567.3 553.4 L569.3 547.2 L571.1 548.2 L572.3 547.2 L574.3 543.1 L575.9 544 L576.9 540 L579 543.6 L580.4 546.3 L582.3 547.5 L583.4 550.3 L585 550.3 L586.6 561.1 L588.5 554.6 L590.1 559.6 L591.6 562.6 L593 562.2 L594.6 563 L596.3 572.6 L597.9 571.5 L599.9 572.3 L601 575 L602.9 576.3 L604.3 579.6 L606.3 581.3 L607.9 587.6 L609.3 587.4 L611.1 588.4 L612.6 590.1 L614.1 596 L615.8 591 L617.5 588.1 L619 579.3 L620.3 572.2 L621.9 570.5 L623.4 566.1 L625 568.7 L626.5 569.8 L628.5 564.2 L630 570 L631.5 567.9 L633 564.3 L634.5 569.4 L636.2 568.1 L638 568 L639.4 566.3 L641.2 571.1 L642.5 568.3 L644.6 566.2 L646.2 567.2 L647.7 568.7 L649.2 572.5 L651 569.3 L652.5 566.6 L654.2 566.8 L655.5 569.6 L657.3 568.5 L658.7 568.2 L660.6 569.3 L661.9 568.9 L663.8 568.9 L665.1 566.7 L666.5 568.2 L668.3 570.9 L669.8 568.5 L671.7 568.6 L673 565.4 L674.8 567.3 L676.4 567.5 L678 565.9 L679.8 565.9 L681 569.3 L682.7 567 L684.3 567 L686.1 569.4 L687.7 566.2 L689.1 567 L690.8 570.1 L692.3 565.8 L694.2 570.7 L695.8 570.9 L697.4 570.2 L698.9 572.1 L700.2 574.7 L702 575.3 L703.7 576.9 L705 578.9 L706.9 579.2 L708.5 580.9 L709.9 582.4 L711.4 586.6 L713.4 586.6 L715.1 586.4 L716.4 590.1 L718 586.3 L719.4 589.4 L721.5 591.7 L722.5 594 L724.2 590.5" fill="none" stroke="#1a6fdc" stroke-width="2.2" stroke-linejoin="round"/>
<path d="M210.8 232.5 L270 232.5 L280.1 240.4 L291.7 248.3 L300.4 254.8 L306.1 261.4 L311.9 268.6 L317 278 L324.9 272.2 L346.6 272 L443.8 345.5 L450.1 351 L461 368.1 L470.2 361.8 L489.4 361.8 L493.6 366.2 L528.3 390.8 L533.5 409.3 L537.1 433.8 L543.2 460.7 L549.3 485.2 L556.7 512.1 L565.2 546.3 L567.7 552.4 L576.5 540.2 L613.8 594.2 L623 568.4 L690.9 567.7 L725.6 594.4" fill="none" stroke="#2ea866" stroke-width="2.4" stroke-linejoin="round"/>
<rect x="488.5" y="317.1" width="37.5" height="28.6" fill="#b4b4b4" fill-opacity="0.42" stroke="#ef5f5f" stroke-width="1.9"/>
<line x1="482.7" y1="328.4" x2="452" y2="342.5" stroke="#000" stroke-width="2.2"/>
<path d="M443 348 L458 335.9 L462.2 344.7 Z" fill="#000"/>
<g stroke="#000" stroke-width="2" fill="none">
<path d="M210.3 197.8 V596.1 H729.6"/>
<path d="M203 221 H210.3"/>
<path d="M206.7 253.6 H210.3"/>
<path d="M203 286.2 H210.3"/>
<path d="M206.7 318.8 H210.3"/>
<path d="M203 351.4 H210.3"/>
<path d="M206.7 384.1 H210.3"/>
<path d="M203 416.7 H210.3"/>
<path d="M206.7 449.3 H210.3"/>
<path d="M203 481.9 H210.3"/>
<path d="M206.7 514.5 H210.3"/>
<path d="M203 547.1 H210.3"/>
<path d="M206.7 579.7 H210.3"/>
<path d="M251.6 596.1 V600.1"/>
<path d="M310.3 596.1 V604.1"/>
<path d="M369 596.1 V600.1"/>
<path d="M427.7 596.1 V604.1"/>
<path d="M486.4 596.1 V600.1"/>
<path d="M545 596.1 V604.1"/>
<path d="M603.7 596.1 V600.1"/>
<path d="M662.4 596.1 V604.1"/>
<path d="M721.1 596.1 V600.1"/>
</g>
<g stroke="#000" stroke-width="2.6" fill="none">
<path d="M107.5 7.6 V677.8"/>
<path d="M101 676.4 H935.8"/>
<path d="M95 8.8 H107.5"/>
<path d="M101 104.1 H107.5"/>
<path d="M95 199.3 H107.5"/>
<path d="M101 294.6 H107.5"/>
<path d="M95 389.9 H107.5"/>
<path d="M101 485.1 H107.5"/>
<path d="M95 580.4 H107.5"/>
<path d="M101 675.7 H107.5"/>
<path d="M107.5 676.4 V688.9"/>
<path d="M148.8 676.4 V682.9"/>
<path d="M190.2 676.4 V688.9"/>
<path d="M231.6 676.4 V682.9"/>
<path d="M272.9 676.4 V688.9"/>
<path d="M314.2 676.4 V682.9"/>
<path d="M355.6 676.4 V688.9"/>
<path d="M396.9 676.4 V682.9"/>
<path d="M438.3 676.4 V688.9"/>
<path d="M479.6 676.4 V682.9"/>
<path d="M521 676.4 V688.9"/>
<path d="M562.3 676.4 V682.9"/>
<path d="M603.7 676.4 V688.9"/>
<path d="M645 676.4 V682.9"/>
<path d="M686.4 676.4 V688.9"/>
<path d="M727.8 676.4 V682.9"/>
<path d="M769.1 676.4 V688.9"/>
<path d="M810.4 676.4 V682.9"/>
<path d="M851.8 676.4 V688.9"/>
<path d="M893.1 676.4 V682.9"/>
<path d="M934.5 676.4 V688.9"/>
</g>
<g font-family="Liberation Serif" font-size="29.8" fill="#000">
<text transform="translate(84.9 20.1) scale(0.95 1)" text-anchor="end">80</text>
<text transform="translate(84.9 210.6) scale(0.95 1)" text-anchor="end">60</text>
<text transform="translate(84.9 401.2) scale(0.95 1)" text-anchor="end">40</text>
<text transform="translate(84.9 591.7) scale(0.95 1)" text-anchor="end">20</text>
<text transform="translate(107.8 723) scale(0.96 1)" text-anchor="middle">0</text>
<text transform="translate(190.5 723) scale(0.96 1)" text-anchor="middle">1000</text>
<text transform="translate(273.2 723) scale(0.96 1)" text-anchor="middle">2000</text>
<text transform="translate(355.9 723) scale(0.96 1)" text-anchor="middle">3000</text>
<text transform="translate(438.6 723) scale(0.96 1)" text-anchor="middle">4000</text>
<text transform="translate(521.3 723) scale(0.96 1)" text-anchor="middle">5000</text>
<text transform="translate(604 723) scale(0.96 1)" text-anchor="middle">6000</text>
<text transform="translate(686.7 723) scale(0.96 1)" text-anchor="middle">7000</text>
<text transform="translate(769.4 723) scale(0.96 1)" text-anchor="middle">8000</text>
<text transform="translate(852.1 723) scale(0.96 1)" text-anchor="middle">9000</text>
<text transform="translate(934.8 723) scale(0.96 1)" text-anchor="middle">10000</text>
</g>
<g font-family="Liberation Serif" font-size="27.2" fill="#000">
<text transform="translate(310.3 631.7) scale(0.95 1)" text-anchor="middle">4700</text>
<text transform="translate(427.7 631.7) scale(0.95 1)" text-anchor="middle">4800</text>
<text transform="translate(545 631.7) scale(0.95 1)" text-anchor="middle">4900</text>
<text transform="translate(662.4 631.7) scale(0.95 1)" text-anchor="middle">5000</text>
</g>
<g font-family="Liberation Serif" fill="#000">
<text transform="translate(151.2 231.2) scale(0.95 1)" x="-6.68" font-size="26.5">4</text>
<text transform="translate(164.2 231.2) scale(0.92 1)" x="-7.12" font-size="26.5">7</text>
<text transform="translate(174 231.2) scale(1.18 1)" x="-3.31" font-size="26.5">.</text>
<text transform="translate(190.2 231.2) scale(1.01 1)" x="-6.88" font-size="26.5">5</text>
<text transform="translate(151.2 296.42) scale(0.95 1)" x="-6.68" font-size="26.5">4</text>
<text transform="translate(164.2 296.42) scale(0.92 1)" x="-7.12" font-size="26.5">7</text>
<text transform="translate(174 296.42) scale(1.18 1)" x="-3.31" font-size="26.5">.</text>
<text transform="translate(190.2 296.42) scale(0.96 1)" x="-6.62" font-size="26.5">0</text>
<text transform="translate(151.2 361.64) scale(0.95 1)" x="-6.68" font-size="26.5">4</text>
<text transform="translate(164.2 361.64) scale(0.95 1)" x="-6.8" font-size="26.5">6</text>
<text transform="translate(174 361.64) scale(1.18 1)" x="-3.31" font-size="26.5">.</text>
<text transform="translate(190.2 361.64) scale(1.01 1)" x="-6.88" font-size="26.5">5</text>
<text transform="translate(151.2 426.86) scale(0.95 1)" x="-6.68" font-size="26.5">4</text>
<text transform="translate(164.2 426.86) scale(0.95 1)" x="-6.8" font-size="26.5">6</text>
<text transform="translate(174 426.86) scale(1.18 1)" x="-3.31" font-size="26.5">.</text>
<text transform="translate(190.2 426.86) scale(0.96 1)" x="-6.62" font-size="26.5">0</text>
<text transform="translate(151.2 492.08) scale(0.95 1)" x="-6.68" font-size="26.5">4</text>
<text transform="translate(164.2 492.08) scale(1.01 1)" x="-6.88" font-size="26.5">5</text>
<text transform="translate(174 492.08) scale(1.18 1)" x="-3.31" font-size="26.5">.</text>
<text transform="translate(190.2 492.08) scale(1.01 1)" x="-6.88" font-size="26.5">5</text>
<text transform="translate(151.2 557.3) scale(0.95 1)" x="-6.68" font-size="26.5">4</text>
<text transform="translate(164.2 557.3) scale(1.01 1)" x="-6.88" font-size="26.5">5</text>
<text transform="translate(174 557.3) scale(1.18 1)" x="-3.31" font-size="26.5">.</text>
<text transform="translate(190.2 557.3) scale(0.96 1)" x="-6.62" font-size="26.5">0</text>
</g>
<rect x="664.2" y="11.8" width="269.1" height="158.25" fill="#fff" stroke="#000" stroke-width="1.9"/>
<g font-family="Liberation Serif" fill="#000">
<line x1="668" y1="34.3" x2="739" y2="34.3" stroke="#4a4a4a" stroke-width="2.2"/>
<text transform="translate(764 46) scale(1.23 1)" x="-4.93" font-size="35.5">l</text>
<text transform="translate(781.3 46) scale(1.3 1)" x="-6.11" font-size="35.5">r</text>
<text transform="translate(798.6 46) scale(0.9 1)" x="-10.03" font-size="35.5">=</text>
<text transform="translate(815.9 46) scale(0.99 1)" x="-8.88" font-size="35.5">0</text>
<text transform="translate(829.3 46) scale(1.22 1)" x="-4.44" font-size="35.5">.</text>
<text transform="translate(850.5 46) scale(0.99 1)" x="-8.88" font-size="35.5">0</text>
<text transform="translate(867.8 46) scale(0.99 1)" x="-8.88" font-size="35.5">0</text>
<text transform="translate(885.1 46) scale(0.99 1)" x="-8.88" font-size="35.5">0</text>
<text transform="translate(902.4 46) scale(0.99 1)" x="-8.88" font-size="35.5">0</text>
<text transform="translate(919.7 46) scale(0.9 1)" x="-9.37" font-size="35.5">1</text>
<line x1="668" y1="72.4" x2="739" y2="72.4" stroke="#ee3b3b" stroke-width="2.2"/>
<text transform="translate(764 83.93) scale(1.23 1)" x="-4.93" font-size="35.5">l</text>
<text transform="translate(781.3 83.93) scale(1.3 1)" x="-6.11" font-size="35.5">r</text>
<text transform="translate(798.6 83.93) scale(0.9 1)" x="-10.03" font-size="35.5">=</text>
<text transform="translate(815.9 83.93) scale(0.99 1)" x="-8.88" font-size="35.5">0</text>
<text transform="translate(829.3 83.93) scale(1.22 1)" x="-4.44" font-size="35.5">.</text>
<text transform="translate(850.5 83.93) scale(0.99 1)" x="-8.88" font-size="35.5">0</text>
<text transform="translate(867.8 83.93) scale(0.99 1)" x="-8.88" font-size="35.5">0</text>
<text transform="translate(885.1 83.93) scale(0.9 1)" x="-9.37" font-size="35.5">1</text>
<line x1="668" y1="110.4" x2="739" y2="110.4" stroke="#1a6fdc" stroke-width="2.2"/>
<text transform="translate(764 121.86) scale(1.23 1)" x="-4.93" font-size="35.5">l</text>
<text transform="translate(781.3 121.86) scale(1.3 1)" x="-6.11" font-size="35.5">r</text>
<text transform="translate(798.6 121.86) scale(0.9 1)" x="-10.03" font-size="35.5">=</text>
<text transform="translate(815.9 121.86) scale(0.99 1)" x="-8.88" font-size="35.5">0</text>
<text transform="translate(829.3 121.86) scale(1.22 1)" x="-4.44" font-size="35.5">.</text>
<text transform="translate(850.5 121.86) scale(0.99 1)" x="-8.88" font-size="35.5">0</text>
<text transform="translate(867.8 121.86) scale(0.99 1)" x="-8.88" font-size="35.5">0</text>
<text transform="translate(885.1 121.86) scale(0.99 1)" x="-8.88" font-size="35.5">0</text>
<text transform="translate(902.4 121.86) scale(0.9 1)" x="-9.37" font-size="35.5">1</text>
<line x1="668" y1="148.5" x2="739" y2="148.5" stroke="#2ea866" stroke-width="2.2"/>
<text transform="translate(764 159.79) scale(0.71 1)" x="-12.32" font-size="35.5">R</text>
<text transform="translate(781.3 159.79) scale(1.07 1)" x="-7.96" font-size="35.5">e</text>
<text transform="translate(798.6 159.79) scale(1.07 1)" x="-8.26" font-size="35.5">a</text>
<text transform="translate(815.9 159.79) scale(1.23 1)" x="-4.93" font-size="35.5">l</text>
<text transform="translate(850.5 159.79) scale(0.96 1)" x="-9.96" font-size="35.5">S</text>
<text transform="translate(867.8 159.79) scale(0.71 1)" x="-12.82" font-size="35.5">O</text>
<text transform="translate(885.1 159.79) scale(0.72 1)" x="-11.59" font-size="35.5">C</text>
</g>
<g font-family="Liberation Serif" fill="#000">
<text transform="translate(455.7 775.5) scale(0.72 1)" x="-10.87" font-size="35.5">T</text>
<text transform="translate(471.8 775.5) scale(0.89 1)" x="-4.97" font-size="35.5">i</text>
<text transform="translate(490.4 775.5) scale(0.75 1)" x="-13.9" font-size="35.5">m</text>
<text transform="translate(508.9 775.5) scale(0.97 1)" x="-7.96" font-size="35.5">e</text>
<text transform="translate(560.5 775.5) scale(1.18 1)" x="-6.99" font-size="35.5">s</text>
</g>
<g fill="none" stroke="#000" stroke-width="1.6" stroke-linecap="round">
<path d="M545.6 750.3 C534.5 756.2 534.5 771.4 545.6 777.3"/>
<path d="M574.4 750.3 C585.5 756.2 585.5 771.4 574.4 777.3"/>
<path d="M-0.2 330.6 C5.9 342.1 21.3 342.1 27.4 330.6"/>
<path d="M-0.2 302.6 C5.9 290.5 21.3 290.5 27.4 302.6"/>
<path d="M506.3 647.6 C495.2 652 495.2 663.2 506.3 667.6" stroke-width="1.4"/>
<path d="M525.4 647.6 C536.5 652 536.5 663.2 525.4 667.6" stroke-width="1.4"/>
<path d="M119 369 C123.4 361.7 134.8 361.7 139.2 369" stroke-width="1.4"/>
<path d="M119 391.2 C123.4 398.3 134.8 398.3 139.2 391.2" stroke-width="1.4"/>
</g>
<g fill="none" stroke="#000" stroke-width="1.5">
<ellipse cx="19.9" cy="312" rx="5.3" ry="2.4"/><ellipse cx="8.3" cy="321.1" rx="5.3" ry="2.6"/>
<path d="M2.5 311.7 L25.7 321.6" stroke-width="1.3"/>
<ellipse cx="133.85" cy="376.7" rx="3.8" ry="1.8" stroke-width="1.3"/><ellipse cx="125.1" cy="383.3" rx="3.9" ry="1.7" stroke-width="1.3"/>
<path d="M120.6 376.5 L138.2 383.4" stroke-width="1.1"/>
</g>
<g font-family="Liberation Serif" fill="#000" transform="translate(26.3 0) rotate(-90)">
<text transform="translate(-403.6 0) scale(0.92 1.04)" x="-9.96" font-size="35.5">S</text>
<text transform="translate(-385.7 0) scale(0.66 1.04)" x="-12.82" font-size="35.5">O</text>
<text transform="translate(-368.3 0) scale(0.74 1.04)" x="-11.59" font-size="35.5">C</text>
</g>
<g font-family="Liberation Serif" fill="#000">
<text transform="translate(437.8 666.8) scale(0.76 1)" x="-8.11" font-size="26.5">T</text>
<text transform="translate(450 666.8) scale(0.9 1)" x="-3.71" font-size="26.5">i</text>
<text transform="translate(462.7 666.8) scale(0.71 1)" x="-10.38" font-size="26.5">m</text>
<text x="470.86" y="666.8" font-size="26.5">e</text>
<text transform="translate(515.9 666.8) scale(1.12 1)" x="-5.22" font-size="26.5">s</text>
</g>
<g font-family="Liberation Serif" fill="#000" transform="translate(139 0) rotate(-90)">
<text transform="translate(-445.4 0) scale(0.97 1.08)" x="-7.43" font-size="26.5">S</text>
<text transform="translate(-432.2 0) scale(0.68 1.08)" x="-9.57" font-size="26.5">O</text>
<text transform="translate(-419.1 0) scale(0.72 1.08)" x="-8.65" font-size="26.5">C</text>
</g>
</svg>
</body></html>
